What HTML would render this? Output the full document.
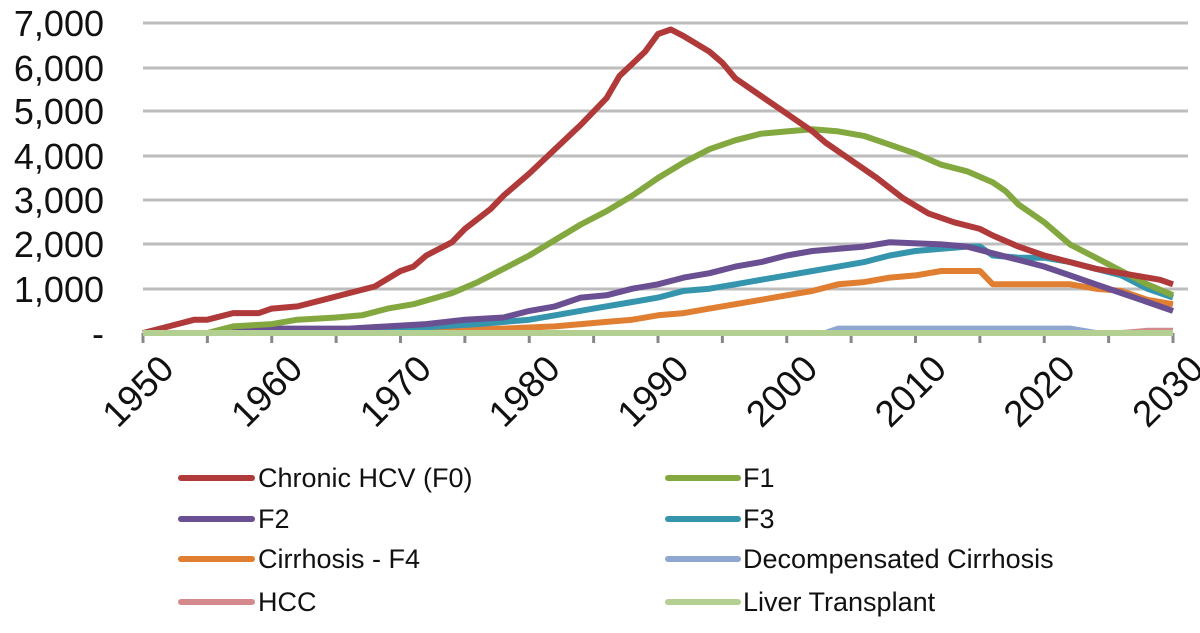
<!DOCTYPE html>
<html><head><meta charset="utf-8"><style>body{margin:0;background:#fff}svg{display:block}text{font-family:"Liberation Sans",Arial,sans-serif;fill:#111}</style></head>
<body>
<svg id="s" width="1200" height="633" xmlns="http://www.w3.org/2000/svg">
<g stroke="#bdbdbd" stroke-width="3">
<line x1="143" x2="1188" y1="23" y2="23"/><line x1="143" x2="1188" y1="68" y2="68"/><line x1="143" x2="1188" y1="111" y2="111"/><line x1="143" x2="1188" y1="156" y2="156"/><line x1="143" x2="1188" y1="200" y2="200"/><line x1="143" x2="1188" y1="244" y2="244"/><line x1="143" x2="1188" y1="289" y2="289"/>
</g>
<g font-size="36" text-anchor="end">
<text x="104" y="36">7,000</text><text x="104" y="81">6,000</text><text x="104" y="124">5,000</text><text x="104" y="169">4,000</text><text x="104" y="213">3,000</text><text x="104" y="257">2,000</text><text x="104" y="302">1,000</text><text x="104" y="346">-</text>
</g>
<g id="ticks" stroke="#888" stroke-width="3"></g>
<g id="xl" font-size="37" text-anchor="end"></g>
<g id="series" fill="none" stroke-width="6" stroke-linejoin="round"></g>
<g font-size="27">
<line x1="181" x2="252" y1="478" y2="478" stroke="#b03a3a" stroke-width="6" stroke-linecap="round"/><text x="258" y="487">Chronic HCV (F0)</text>
<line x1="181" x2="252" y1="519" y2="519" stroke="#6a4f92" stroke-width="6" stroke-linecap="round"/><text x="258" y="528">F2</text>
<line x1="181" x2="252" y1="559" y2="559" stroke="#e07f32" stroke-width="6" stroke-linecap="round"/><text x="258" y="568">Cirrhosis - F4</text>
<line x1="181" x2="252" y1="602" y2="602" stroke="#d4898c" stroke-width="6" stroke-linecap="round"/><text x="258" y="611">HCC</text>
<line x1="668" x2="738" y1="478" y2="478" stroke="#84a840" stroke-width="6" stroke-linecap="round"/><text x="743" y="487">F1</text>
<line x1="668" x2="738" y1="519" y2="519" stroke="#3595ad" stroke-width="6" stroke-linecap="round"/><text x="743" y="528">F3</text>
<line x1="668" x2="738" y1="559" y2="559" stroke="#8ea6d0" stroke-width="6" stroke-linecap="round"/><text x="743" y="568">Decompensated  Cirrhosis</text>
<line x1="668" x2="738" y1="602" y2="602" stroke="#b3cf92" stroke-width="6" stroke-linecap="round"/><text x="743" y="611">Liver Transplant</text>
</g>
</svg>
<script>
const X=y=>143+12.875*(y-1950),Y=v=>333-0.0443*v;
const ns="http://www.w3.org/2000/svg";
let t=document.getElementById('ticks'),xl=document.getElementById('xl');
for(let y=1950;y<=2030;y+=5){let l=document.createElementNS(ns,'line');l.setAttribute('x1',X(y));l.setAttribute('x2',X(y));l.setAttribute('y1',333);l.setAttribute('y2',343);t.appendChild(l);}
for(let y=1950;y<=2030;y+=10){let e=document.createElementNS(ns,'text');let x=X(y)+16;e.setAttribute('transform',`translate(${x},354) rotate(-45)`);e.setAttribute('y',24);e.textContent=y;xl.appendChild(e);}
const S=[
["#d4898c",[[1950,0],[2026,0],[2028,50],[2030,50]]],
["#8ea6d0",[[1950,0],[2003,0],[2004,100],[2022,100],[2024,0],[2030,0]]],
["#e07f32",[[1950,0],[1968,0],[1970,50],[1978,100],[1982,150],[1984,200],[1986,250],[1988,300],[1990,400],[1992,450],[1994,550],[1996,650],[1998,750],[2000,850],[2002,950],[2004,1100],[2006,1150],[2008,1250],[2010,1300],[2012,1400],[2015,1400],[2016,1100],[2022,1100],[2024,1000],[2026,950],[2028,750],[2030,650]]],
["#3595ad",[[1950,0],[1961,0],[1962,50],[1970,100],[1976,200],[1980,300],[1982,400],[1985,550],[1988,700],[1990,800],[1992,950],[1994,1000],[1996,1100],[1998,1200],[2000,1300],[2002,1400],[2004,1500],[2006,1600],[2008,1750],[2010,1850],[2012,1900],[2014,1950],[2015,1950],[2016,1750],[2018,1700],[2020,1700],[2022,1600],[2024,1450],[2026,1300],[2028,1000],[2030,800]]],
["#6a4f92",[[1950,0],[1956,0],[1958,100],[1966,100],[1972,200],[1975,300],[1978,350],[1980,500],[1982,600],[1984,800],[1986,850],[1988,1000],[1990,1100],[1992,1250],[1994,1350],[1996,1500],[1998,1600],[2000,1750],[2002,1850],[2004,1900],[2006,1950],[2008,2050],[2012,2000],[2014,1950],[2016,1800],[2018,1650],[2020,1500],[2022,1300],[2024,1100],[2026,900],[2028,700],[2030,500]]],
["#84a840",[[1950,0],[1955,0],[1957,150],[1960,200],[1962,300],[1965,350],[1967,400],[1969,550],[1971,650],[1974,900],[1976,1150],[1978,1450],[1980,1750],[1982,2100],[1984,2450],[1986,2750],[1988,3100],[1990,3500],[1992,3850],[1994,4150],[1996,4350],[1998,4500],[2000,4550],[2002,4600],[2004,4550],[2006,4450],[2008,4250],[2010,4050],[2012,3800],[2014,3650],[2016,3400],[2017,3200],[2018,2900],[2020,2500],[2022,2000],[2024,1700],[2026,1400],[2028,1100],[2030,850]]],
["#b03a3a",[[1950,0],[1952,150],[1954,300],[1955,300],[1957,450],[1959,450],[1960,550],[1962,600],[1964,750],[1966,900],[1968,1050],[1970,1400],[1971,1500],[1972,1750],[1974,2050],[1975,2350],[1977,2800],[1978,3100],[1980,3600],[1982,4150],[1984,4700],[1986,5300],[1987,5800],[1989,6350],[1990,6750],[1991,6850],[1992,6700],[1994,6350],[1995,6100],[1996,5750],[1998,5350],[2000,4950],[2002,4550],[2003,4300],[2005,3900],[2007,3500],[2009,3050],[2011,2700],[2013,2500],[2015,2350],[2016,2200],[2018,1950],[2020,1750],[2022,1600],[2024,1450],[2026,1350],[2028,1250],[2029,1200],[2030,1100]]],
["#b3cf92",[[1950,0],[2030,0]]]];
let g=document.getElementById('series');
for(const [c,p] of S){let e=document.createElementNS(ns,'polyline');e.setAttribute('stroke',c);e.setAttribute('points',p.map(q=>X(q[0]).toFixed(1)+','+Y(q[1]).toFixed(1)).join(' '));g.appendChild(e);}
</script>
</body></html>
